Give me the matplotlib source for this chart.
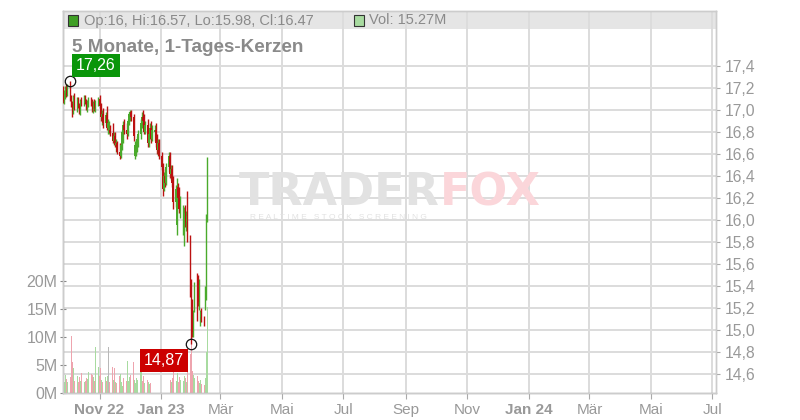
import matplotlib
matplotlib.use("Agg")
import matplotlib.pyplot as plt
import matplotlib.dates as mdates
from matplotlib.transforms import blended_transform_factory
from matplotlib.patches import Rectangle
import pandas as pd
import numpy as np

plt.rcParams['font.family'] = ['Liberation Sans', 'DejaVu Sans']

# ---------------- data ----------------
dates = pd.bdate_range('2022-09-26', '2023-02-16')

opens = [17.20, 17.08, 17.15, 17.19, 17.14,
         17.22, 17.10, 17.05, 16.98, 17.12,
         17.02, 17.10, 17.04, 17.00, 17.08,
         17.06, 17.12, 17.07, 17.02, 17.06,
         17.10, 17.06, 17.00, 17.06, 17.02,
         17.07,
         17.10, 17.04, 16.94, 16.96,
         16.88, 16.95, 16.84, 16.84, 16.82,
         16.79, 16.72, 16.76, 16.68, 16.70,
         16.62, 16.58, 16.68, 16.80, 16.86,
         16.82, 16.78, 16.90,
         16.96, 16.98,
         16.94, 16.58, 16.66, 16.70, 16.70,
         16.78, 16.88, 16.94, 16.90, 16.80,
         16.86, 16.70, 16.78, 16.84, 16.74,
         16.80, 16.82, 16.70, 16.64, 16.70,
         16.58, 16.48, 16.28, 16.40, 16.34,
         16.48, 16.58, 16.42, 16.46, 16.34,
         16.16, 15.95, 16.30, 16.20, 16.10,
         15.92, 15.82, 16.10, 15.98, 16.04,
         15.84, 15.42,
         15.26, 15.00, 15.18,
         15.48, 15.45, 15.22, 15.12, 15.18,
         15.10, 15.20, 15.30, 16.00]
highs = [17.22, 17.18, 17.22, 17.24, 17.24,
         17.26, 17.14, 17.08, 17.14, 17.15,
         17.12, 17.12, 17.06, 17.10, 17.12,
         17.14, 17.14, 17.10, 17.09, 17.12,
         17.12, 17.10, 17.08, 17.10, 17.09,
         17.12,
         17.14, 17.06, 17.00, 17.02,
         16.98, 17.04, 16.92, 16.90, 16.86,
         16.88, 16.80, 16.80, 16.74, 16.72,
         16.70, 16.70, 16.82, 16.90, 16.92,
         16.88, 16.92, 16.98,
         17.00, 17.00,
         16.96, 16.72, 16.74, 16.76, 16.82,
         16.92, 16.98, 17.00, 16.96, 16.90,
         16.92, 16.82, 16.88, 16.90, 16.86,
         16.86, 16.88, 16.78, 16.74, 16.74,
         16.62, 16.52, 16.44, 16.46, 16.52,
         16.62, 16.62, 16.50, 16.50, 16.40,
         16.32, 16.38, 16.34, 16.30, 16.22,
         16.14, 16.12, 16.14, 16.08, 16.26,
         15.86, 15.46,
         15.28, 15.18, 15.44,
         15.52, 15.50, 15.46, 15.18, 15.20,
         15.13, 15.40, 16.05, 16.57]
lows = [17.06, 17.05, 17.10, 17.12, 17.13,
        17.08, 17.03, 16.94, 16.96, 17.00,
        16.98, 17.02, 16.96, 16.95, 17.04,
        17.04, 17.05, 17.00, 16.98, 17.03,
        17.04, 16.98, 16.97, 16.99, 16.98,
        17.04,
        17.02, 16.90, 16.86, 16.84,
        16.85, 16.82, 16.78, 16.78, 16.76,
        16.70, 16.68, 16.66, 16.62, 16.60,
        16.55, 16.56, 16.64, 16.70, 16.78,
        16.74, 16.76, 16.86,
        16.90, 16.90,
        16.72, 16.55, 16.58, 16.62, 16.66,
        16.74, 16.84, 16.86, 16.78, 16.78,
        16.66, 16.66, 16.74, 16.70, 16.72,
        16.72, 16.66, 16.60, 16.58, 16.55,
        16.45, 16.22, 16.26, 16.30, 16.32,
        16.44, 16.38, 16.36, 16.30, 16.10,
        16.12, 15.86, 16.16, 16.06, 16.02,
        15.86, 15.76, 15.94, 15.90, 15.80,
        15.30, 14.87,
        14.94, 14.94, 15.16,
        15.08, 15.22, 15.18, 15.04, 15.07,
        15.04, 15.18, 15.27, 15.98]
closes = [17.08, 17.15, 17.19, 17.14, 17.22,
          17.10, 17.05, 16.98, 17.12, 17.02,
          17.10, 17.04, 17.00, 17.08, 17.06,
          17.12, 17.07, 17.02, 17.06, 17.10,
          17.06, 17.00, 17.06, 17.02, 17.07,
          17.10,
          17.04, 16.94, 16.96, 16.88,
          16.95, 16.84, 16.88, 16.84, 16.79,
          16.72, 16.76, 16.68, 16.70, 16.62,
          16.58, 16.68, 16.80, 16.86, 16.82,
          16.78, 16.90, 16.96,
          16.98, 16.94,
          16.76, 16.68, 16.70, 16.74, 16.78,
          16.88, 16.94, 16.90, 16.80, 16.86,
          16.70, 16.78, 16.84, 16.74, 16.82,
          16.82, 16.70, 16.64, 16.70, 16.58,
          16.48, 16.28, 16.40, 16.34, 16.48,
          16.58, 16.42, 16.46, 16.34, 16.16,
          16.28, 16.30, 16.20, 16.10, 16.16,
          16.08, 16.06, 15.98, 16.04, 15.84,
          15.42, 15.00,
          14.98, 15.14, 15.40,
          15.12, 15.25, 15.42, 15.16, 15.09,
          15.06, 15.36, 15.98, 16.47]
volumes = [2.5, 2.0, 3.2, 2.5, 2.0,
           2.8, 10.2, 5.5, 4.5, 2.2,
           3.0, 2.0, 2.8, 2.2, 3.6,
           2.0, 2.2, 2.6, 2.5, 3.8,
           3.4, 3.2, 2.8, 2.2, 8.2,
           4.6,
           3.0, 4.5, 2.4, 2.0,
           2.8, 2.2, 3.0, 8.2, 2.0,
           4.6, 2.4, 4.5, 2.0, 1.8,
           3.0, 3.4, 2.0, 1.2, 2.6,
           2.2, 5.8, 2.2,
           2.8, 3.2,
           5.6, 2.4, 1.8, 2.6, 2.4,
           6.0, 5.6, 2.2, 3.0, 1.8,
           2.4, 2.0, 1.6, 1.8, 1.2,
           0.8, 1.4, 1.6, 1.8, 1.4,
           1.8, 3.0, 2.0, 1.6, 2.2,
           1.8, 2.4, 2.0, 2.6, 4.6,
           2.2, 3.6, 2.0, 2.8, 2.4,
           2.2, 3.0, 2.6, 2.0, 6.3,
           7.0, 9.5,
           4.0, 3.2, 2.6,
           3.0, 2.2, 1.8, 2.4, 1.6,
           1.4, 2.6, 7.3, 15.27]

price_ticks = [14.6, 14.8, 15.0, 15.2, 15.4, 15.6, 15.8, 16.0, 16.2,
               16.4, 16.6, 16.8, 17.0, 17.2, 17.4]
vol_ticks = [0, 5, 10, 15, 20]
month_ticks = ['2022-11-01', '2023-01-01', '2023-03-01', '2023-05-01', '2023-07-01',
               '2023-09-01', '2023-11-01', '2024-01-01', '2024-03-01', '2024-05-01',
               '2024-07-01']
month_labels = ['Nov 22', 'Jan 23', 'Mär', 'Mai', 'Jul', 'Sep', 'Nov', 'Jan 24',
                'Mär', 'Mai', 'Jul']
bold_labels = {'Nov 22', 'Jan 23', 'Jan 24'}
title = '5 Monate, 1-Tages-Kerzen'

# ---------------- styling ----------------
UP = '#4aaa2c'
DOWN = '#bb1111'
VUP = '#a8dba0'
VDOWN = '#eea4ae'
VFLAT = '#b8b8b8'
GRID = '#dcdcdc'
TXT = '#999999'

o = np.array(opens); h = np.array(highs); l = np.array(lows); c = np.array(closes)
v = np.array(volumes)
x = mdates.date2num(dates.to_pydatetime())

fig = plt.figure(figsize=(8, 4.2), dpi=100)
L, R, T, B = 63, 716, 11, 393
ax_v = fig.add_axes([L / 800, 1 - B / 420, (R - L) / 800, (B - T) / 420])
ax_p = ax_v.twinx()

x0 = mdates.date2num(pd.Timestamp('2022-09-25 19:00').to_pydatetime())
x1 = mdates.date2num(pd.Timestamp('2024-07-04 12:00').to_pydatetime())
ax_v.set_xlim(x0, x1)
ax_v.set_ylim(0, 68.2)
ax_p.set_ylim(14.427, 17.9)

# header band
ax_v.add_patch(Rectangle((0, (B - 29) / (B - T)), 1, 1 - (B - 29) / (B - T),
                         transform=ax_v.transAxes, color='#e5e5e5', zorder=0, lw=0))

# grid
mt = mdates.date2num([pd.Timestamp(d).to_pydatetime() for d in month_ticks])
for m in mt:
    ax_v.axvline(m, color=GRID, lw=1.4, zorder=0.5)
btr = blended_transform_factory(ax_v.transAxes, ax_p.transData)
for p in price_ticks:
    ax_v.plot([0, 1], [p, p], transform=btr, color=GRID, lw=1.4, zorder=0.5)

# volume
vcol = [VUP if cc > oo else (VDOWN if cc < oo else VFLAT) for oo, cc in zip(o, c)]
ax_v.bar(x, v, width=0.85, color=vcol, zorder=2, lw=0)

# candles
ccol = [UP if cc >= oo else DOWN for oo, cc in zip(o, c)]
ax_p.vlines(x, l, h, colors=ccol, lw=1.0, zorder=3)
body_lo = np.minimum(o, c)
body_h = np.maximum(np.abs(c - o), 0.01)
ax_p.bar(x, body_h, bottom=body_lo, width=1.3, color=ccol, lw=0, zorder=3)

# hi / lo markers
ih = int(np.argmax(h)); il = int(np.argmin(l))
ax_p.plot(x[ih], h[ih], 'o', ms=7.5, mfc='none', mec='#111111', mew=0.9, zorder=5)
ax_p.plot(x[il], l[il], 'o', ms=7.5, mfc='none', mec='#111111', mew=0.9, zorder=5)
ax_p.annotate(f"{h[ih]:.2f}".replace('.', ','), (x[ih], h[ih]), xytext=(4.3, 5.8),
              textcoords='offset points', ha='left', va='bottom', color='white',
              fontsize=11.5, zorder=6,
              bbox=dict(boxstyle='square,pad=0.25', fc='#0a960a', ec='none'))
ax_p.annotate(f"{l[il]:.2f}".replace('.', ','), (x[il], l[il]), xytext=(-5.1, -6.5),
              textcoords='offset points', ha='right', va='top', color='white',
              fontsize=11.5, zorder=6,
              bbox=dict(boxstyle='square,pad=0.25', fc='#cc0000', ec='none'))

# axes formatting
ax_v.set_xticks(mt)
ax_v.set_xticklabels(month_labels)
for lab in ax_v.get_xticklabels():
    lab.set_color(TXT)
    lab.set_fontsize(11)
    if lab.get_text() in bold_labels:
        lab.set_fontweight('bold')
ax_v.tick_params(axis='x', length=4, color='#aaaaaa', pad=3)

ax_v.set_yticks(vol_ticks)
ax_v.set_yticklabels([f"{t}M" for t in vol_ticks])
ax_v.tick_params(axis='y', left=True, length=4, color='#888888', labelcolor=TXT,
                 labelsize=11.5, pad=2, direction='inout')

ax_p.set_yticks(price_ticks)
ax_p.set_yticklabels([f"{t:.1f}".replace('.', ',') for t in price_ticks])
ax_p.tick_params(axis='y', right=True, length=3, color='#aaaaaa', labelcolor=TXT,
                 labelsize=11.3, pad=3)

for ax in (ax_v, ax_p):
    for s in ax.spines.values():
        s.set_color('#cccccc')
        s.set_linewidth(1.0)
ax_v.spines['left'].set_color('#aaaaaa')
ax_v.spines['bottom'].set_color('#aaaaaa')
ax_p.patch.set_visible(False)

# watermark
fig.text(239 / 800, 1 - 193 / 420, 'TRADER', fontsize=32, fontweight='bold',
         color='#e2e2e2', ha='left', va='center', zorder=1,
         family=['DejaVu Sans'])
fig.text(440 / 800, 1 - 193 / 420, 'FOX', fontsize=32, fontweight='bold',
         color='#fbd6da', ha='left', va='center', zorder=1, family=['DejaVu Sans'])
fig.text(250 / 800, 1 - 217 / 420, 'R E A L T I M E   S T O C K   S C R E E N I N G',
         fontsize=6.0, color='#e2e2e2', ha='left', va='center', zorder=1)

# header legend
fig.patches.append(Rectangle((68 / 800, 1 - 26 / 420), 10 / 800, 11 / 420,
                             transform=fig.transFigure, fc='#3f9f25', ec='#333333',
                             lw=0.8, zorder=10))
fig.text(84 / 800, 1 - 20.5 / 420,
         f"Op:{o[-1]:g}, Hi:{h[-1]:g}, Lo:{l[-1]:g}, Cl:{c[-1]:g}",
         fontsize=10.5, color='#8a8a8a', ha='left', va='center', zorder=10)
fig.patches.append(Rectangle((354 / 800, 1 - 26 / 420), 10 / 800, 11 / 420,
                             transform=fig.transFigure, fc=VUP, ec='#333333',
                             lw=0.8, zorder=10))
fig.text(369 / 800, 1 - 20.5 / 420, f"Vol: {v[-1]:.2f}M",
         fontsize=10.5, color='#8a8a8a', ha='left', va='center', zorder=10)
fig.text(72 / 800, 1 - 47 / 420, title, fontsize=13.6, fontweight='bold',
         color='#8a8a8a', ha='left', va='center', zorder=10)

fig.savefig('out.png', dpi=100)
